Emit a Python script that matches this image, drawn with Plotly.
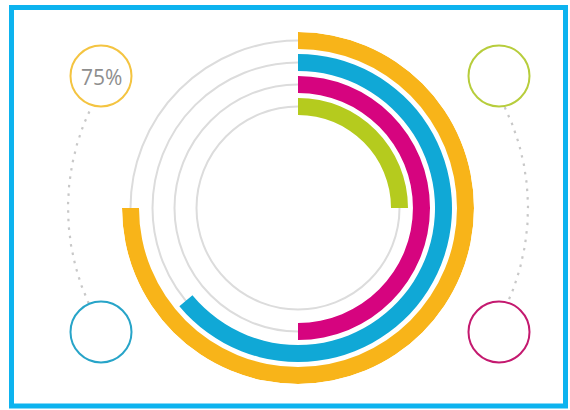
import plotly.graph_objects as go
import numpy as np

# ---- data ----
series = ["A", "B", "C", "D"]            # outer -> inner
values = [75, 64, 50, 25]                # percent
bar_colors = ["#f8b419", "#10a8d6", "#d6047f", "#b5cb1e"]
ring_colors = ["#f4c441", "#b7cd3c", "#27a4c8", "#c4196f"]  # TL, TR, BL, BR
label_text = "75%"

W, H = 570, 410
CX, CY = 298, 208          # chart centre in pixels (y downwards)
R = 176                    # outer radius in px
THICK = 17
STEP = 22

fig = go.Figure()

# radial bars
for i, (name, v, c) in enumerate(zip(series, values, bar_colors)):
    base = R - THICK - i * STEP
    fig.add_trace(go.Barpolar(
        r=[THICK], base=[base], theta=[v * 3.6 / 2], width=[v * 3.6],
        marker=dict(color=c, line=dict(width=0)), name=name,
        hoverinfo="skip", showlegend=False))

track_r = [R - THICK / 2 - i * STEP for i in range(len(series))]

# dotted guide arcs (cartesian, pixel frame)
GR = 230
for a0, a1 in [(245.5, 296), (64, 114.5)]:
    t = np.radians(np.linspace(a0, a1, 80))
    fig.add_trace(go.Scatter(
        x=CX + GR * np.sin(t), y=CY - GR * np.cos(t), mode="lines",
        line=dict(color="#c8c8c8", width=2.2, dash="2.5px,6px"),
        hoverinfo="skip", showlegend=False))

fig.update_layout(
    width=W, height=H, margin=dict(l=0, r=0, t=0, b=0),
    paper_bgcolor="white", plot_bgcolor="rgba(0,0,0,0)",
    xaxis=dict(range=[0, W], visible=False, domain=[0, 1], fixedrange=True),
    yaxis=dict(range=[H, 0], visible=False, domain=[0, 1], fixedrange=True),
    polar=dict(
        domain=dict(x=[(CX - R) / W, (CX + R) / W],
                    y=[(H - CY - R) / H, (H - CY + R) / H]),
        bgcolor="rgba(0,0,0,0)",
        radialaxis=dict(range=[0, R], tickvals=track_r, showticklabels=False,
                        ticks="", showline=False, showgrid=True,
                        gridcolor="#dcdcdc", gridwidth=1.5),
        angularaxis=dict(rotation=90, direction="clockwise", showgrid=False,
                         showline=False, showticklabels=False, ticks=""),
    ),
    showlegend=False,
)

# corner rings
centers = [(101, 76), (499, 76), (101, 332), (499, 332)]
for (x, y), c in zip(centers, ring_colors):
    fig.add_shape(type="circle", xref="x", yref="y",
                  x0=x - 30.5, x1=x + 30.5, y0=y - 30.5, y1=y + 30.5,
                  line=dict(color=c, width=2))

fig.add_annotation(x=101, y=77, xref="x", yref="y", text=label_text,
                   showarrow=False,
                   font=dict(family="Open Sans", size=21, color="#8e8e8e"))

# frame
fig.add_shape(type="rect", xref="x", yref="y", x0=11.5, x1=565.5,
              y0=7.5, y1=406, line=dict(color="#0db3ef", width=5))

fig.write_html("out.html", config={"displayModeBar": False},
               post_script="document.body.style.margin='0';")
